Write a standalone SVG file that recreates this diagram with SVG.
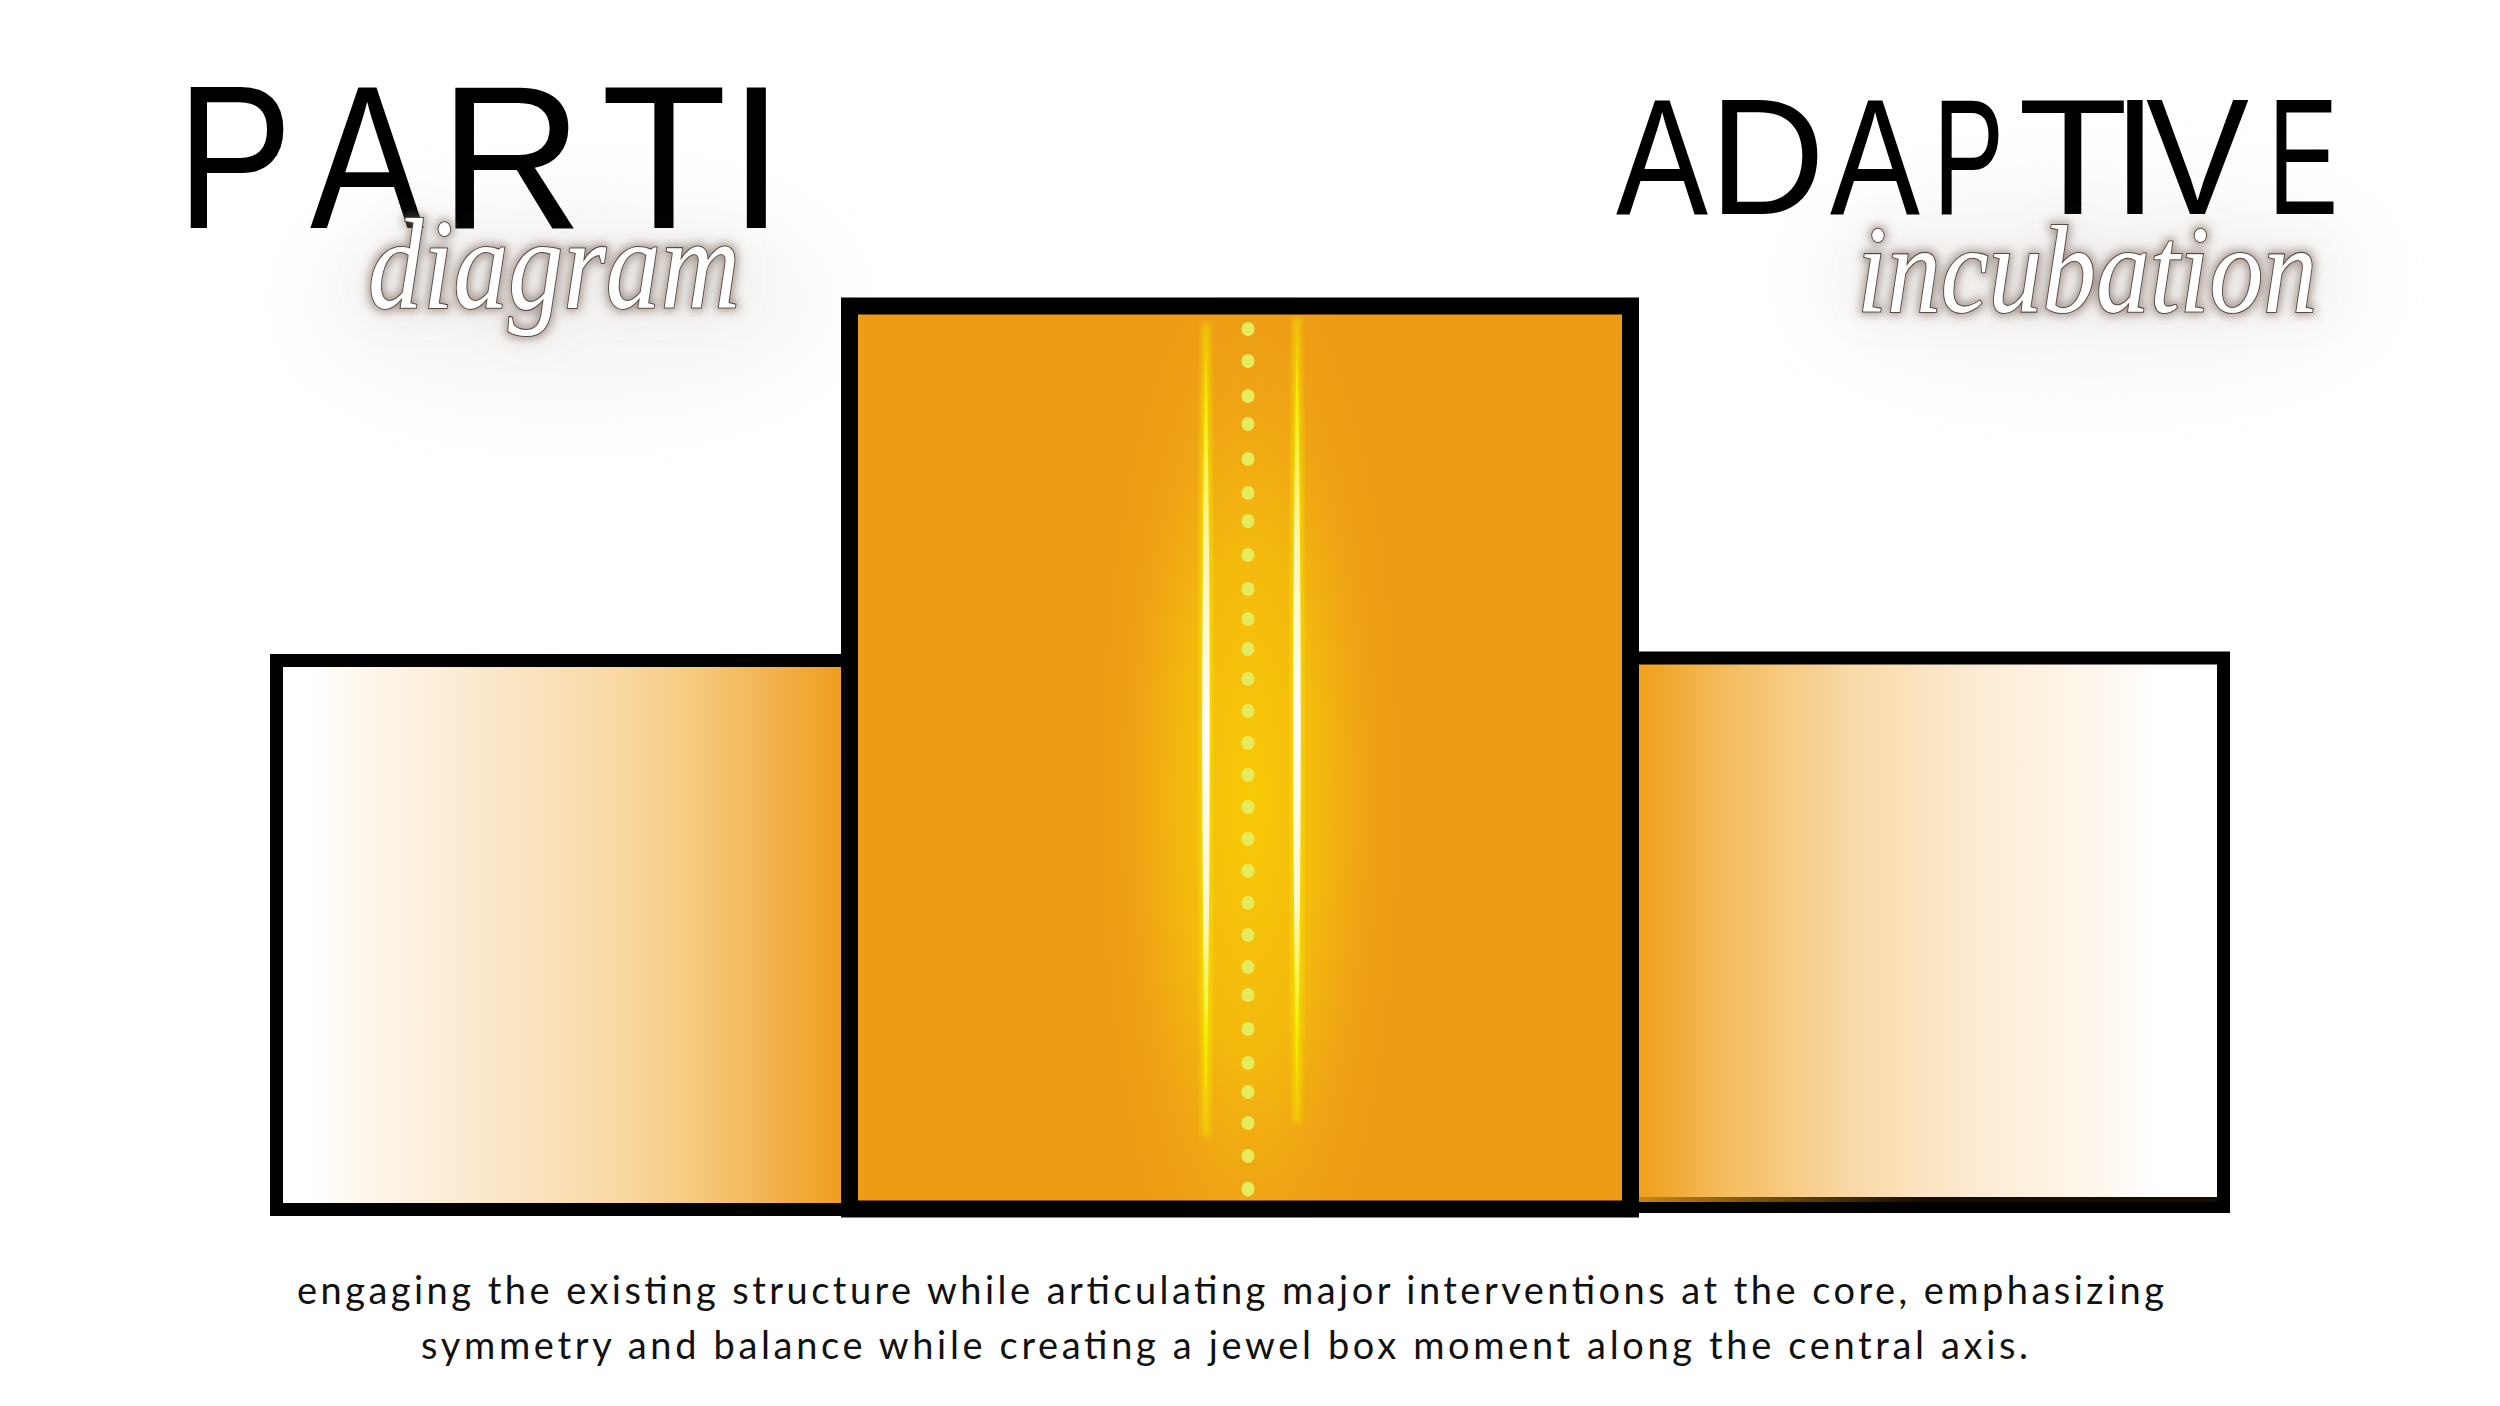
<svg xmlns="http://www.w3.org/2000/svg" width="2500" height="1406" viewBox="0 0 2500 1406">
  <style>
    .frame { stroke: #000; fill: none; stroke-linejoin: miter; }
    .title { font-family: "Liberation Sans", "DejaVu Sans", sans-serif; fill: #000; }
    .script { font-family: "Liberation Serif", "DejaVu Serif", serif; font-style: italic; fill: #fff; stroke: #5b4a40; stroke-width: 2.2; paint-order: stroke; }
    .caption { font-family: Lato, "Noto Sans", "Liberation Sans", sans-serif; font-size: 38px; fill: #111; }
    .dot { fill: #E4EC5E; }
  </style>
  <defs>
    <linearGradient id="gLeft" gradientUnits="userSpaceOnUse" x1="283" y1="0" x2="849" y2="0">
      <stop offset="0" stop-color="#FFFFFF"/>
      <stop offset="0.045" stop-color="#FFFFFF"/>
      <stop offset="0.16" stop-color="#FDF5EA"/>
      <stop offset="0.38" stop-color="#FBE7C9"/>
      <stop offset="0.6" stop-color="#F9D8A2"/>
      <stop offset="0.75" stop-color="#F6C677"/>
      <stop offset="0.89" stop-color="#F2AE45"/>
      <stop offset="1" stop-color="#EE9C16"/>
    </linearGradient>
    <linearGradient id="gRight" gradientUnits="userSpaceOnUse" x1="1639" y1="0" x2="2217" y2="0">
      <stop offset="0" stop-color="#EF9F1B"/>
      <stop offset="0.147" stop-color="#F4BC5E"/>
      <stop offset="0.363" stop-color="#F9D9A6"/>
      <stop offset="0.578" stop-color="#FCEBD2"/>
      <stop offset="0.794" stop-color="#FEF7EE"/>
      <stop offset="0.9" stop-color="#FFFFFF"/>
      <stop offset="1" stop-color="#FFFFFF"/>
    </linearGradient>
    <linearGradient id="gStrip" gradientUnits="userSpaceOnUse" x1="1639" y1="0" x2="1920" y2="0">
      <stop offset="0" stop-color="#C8860F"/>
      <stop offset="1" stop-color="#150d00"/>
    </linearGradient>
    <radialGradient id="gGlow" gradientUnits="userSpaceOnUse" cx="1250" cy="800" r="1" gradientTransform="translate(1250 800) scale(160 580) translate(-1250 -800)">
      <stop offset="0" stop-color="#F8CA06" stop-opacity="1"/>
      <stop offset="0.45" stop-color="#F5C00C" stop-opacity="0.8"/>
      <stop offset="0.8" stop-color="#F0A814" stop-opacity="0.3"/>
      <stop offset="1" stop-color="#EE9C16" stop-opacity="0"/>
    </radialGradient>
    <linearGradient id="gLine" x1="0" y1="0" x2="0" y2="1">
      <stop offset="0" stop-color="#F2EE00" stop-opacity="0"/>
      <stop offset="0.1" stop-color="#F2EE00"/>
      <stop offset="0.28" stop-color="#FDF7B0"/>
      <stop offset="0.5" stop-color="#FFFFFF"/>
      <stop offset="0.72" stop-color="#FFF9D0"/>
      <stop offset="0.88" stop-color="#F0F000"/>
      <stop offset="1" stop-color="#F0F000" stop-opacity="0"/>
    </linearGradient>
    <clipPath id="clipCore">
      <rect x="858" y="314.5" width="764" height="886"/>
    </clipPath>
    <filter id="soft" x="-50%" y="-50%" width="200%" height="200%">
      <feGaussianBlur stdDeviation="3"/>
    </filter>
    <filter id="haze" x="-50%" y="-100%" width="200%" height="300%">
      <feGaussianBlur stdDeviation="45"/>
    </filter>
    <filter id="glow" x="-20%" y="-60%" width="140%" height="220%">
      <feMorphology in="SourceAlpha" operator="dilate" radius="1.5" result="d"/>
      <feGaussianBlur in="d" stdDeviation="5" result="b"/>
      <feFlood flood-color="#6f5d52" flood-opacity="0.6"/>
      <feComposite in2="b" operator="in" result="s"/>
      <feGaussianBlur in="SourceAlpha" stdDeviation="20" result="b2"/>
      <feFlood flood-color="#9b8c82" flood-opacity="0.25"/>
      <feComposite in2="b2" operator="in" result="s2"/>
      <feMerge><feMergeNode in="s2"/><feMergeNode in="s"/><feMergeNode in="SourceGraphic"/></feMerge>
    </filter>
  </defs>

  <rect x="0" y="0" width="2500" height="1406" fill="#FFFFFF"/>

  <!-- Title: PARTI diagram -->
  <g id="title-parti">
    <ellipse cx="570" cy="300" rx="250" ry="90" fill="#e2dbd6" opacity="0.3" filter="url(#haze)"/>
    <text class="title" font-size="204" x="176.5" y="228" textLength="116" lengthAdjust="spacingAndGlyphs">P</text>
    <text class="title" font-size="204" x="310" y="228" textLength="114" lengthAdjust="spacingAndGlyphs">A</text>
    <text class="title" font-size="204" x="439" y="228" textLength="144" lengthAdjust="spacingAndGlyphs">R</text>
    <text class="title" font-size="204" x="601" y="228" textLength="126" lengthAdjust="spacingAndGlyphs">T</text>
    <text class="title" font-size="204" x="728" y="228">I</text>
    <text class="script" font-size="130" x="368" y="308" textLength="372" lengthAdjust="spacingAndGlyphs" filter="url(#glow)">diagram</text>
  </g>

  <!-- Title: ADAPTIVE incubation -->
  <g id="title-adaptive">
    <ellipse cx="2090" cy="280" rx="270" ry="85" fill="#e2dbd6" opacity="0.3" filter="url(#haze)"/>
    <text class="title" font-size="165" x="1616" y="214" textLength="92" lengthAdjust="spacingAndGlyphs">A</text>
    <text class="title" font-size="165" x="1709" y="214" textLength="116" lengthAdjust="spacingAndGlyphs">D</text>
    <text class="title" font-size="165" x="1830" y="214" textLength="90" lengthAdjust="spacingAndGlyphs">A</text>
    <text class="title" font-size="165" x="1933" y="214" textLength="71" lengthAdjust="spacingAndGlyphs">P</text>
    <text class="title" font-size="165" x="2018" y="214" textLength="110" lengthAdjust="spacingAndGlyphs">T</text>
    <text class="title" font-size="165" x="2112" y="214">I</text>
    <text class="title" font-size="165" x="2146" y="214" textLength="103" lengthAdjust="spacingAndGlyphs">V</text>
    <text class="title" font-size="165" x="2268" y="214" textLength="70" lengthAdjust="spacingAndGlyphs">E</text>
    <text class="script" font-size="125" x="1857" y="312" textLength="460" lengthAdjust="spacingAndGlyphs" filter="url(#glow)">incubation</text>
  </g>

  <!-- Left wing -->
  <g id="node-left">
    <rect x="276.5" y="660.5" width="572" height="549" class="frame" stroke-width="13" style="fill:url(#gLeft)"/>
  </g>

  <!-- Right wing -->
  <g id="node-right">
    <rect x="1630" y="658" width="593.5" height="548.5" class="frame" stroke-width="13" style="fill:url(#gRight)"/>
    <rect x="1639" y="1197" width="578" height="5" fill="url(#gStrip)"/>
  </g>

  <!-- Central core -->
  <g id="node-center">
    <rect x="849.5" y="306" width="781" height="903" fill="#EE9C16"/>
    <g clip-path="url(#clipCore)">
      <ellipse cx="1250" cy="800" rx="160" ry="580" fill="url(#gGlow)"/>
      <path d="M1206 323 C1211 600 1211 860 1206 1137 C1201 860 1201 600 1206 323 Z" fill="none" stroke="#F5E600" stroke-width="5" opacity="0.85" filter="url(#soft)"/>
      <path d="M1297 317 C1302 600 1302 850 1297 1123 C1292 850 1292 600 1297 317 Z" fill="none" stroke="#F5E600" stroke-width="5" opacity="0.85" filter="url(#soft)"/>
      <path d="M1206 323 C1211 600 1211 860 1206 1137 C1201 860 1201 600 1206 323 Z" fill="url(#gLine)"/>
      <path d="M1297 317 C1302 600 1302 850 1297 1123 C1292 850 1292 600 1297 317 Z" fill="url(#gLine)"/>
      <g id="axis-dots">
        <ellipse class="dot" cx="1248" cy="329" rx="6.5" ry="7"/>
        <ellipse class="dot" cx="1248" cy="361" rx="6.5" ry="7"/>
        <ellipse class="dot" cx="1248" cy="396" rx="6.5" ry="7"/>
        <ellipse class="dot" cx="1248" cy="424" rx="6.5" ry="7"/>
        <ellipse class="dot" cx="1248" cy="459" rx="6.5" ry="7"/>
        <ellipse class="dot" cx="1248" cy="493" rx="6.5" ry="7"/>
        <ellipse class="dot" cx="1248" cy="521" rx="6.5" ry="7"/>
        <ellipse class="dot" cx="1248" cy="555" rx="6.5" ry="7"/>
        <ellipse class="dot" cx="1248" cy="589" rx="6.5" ry="7"/>
        <ellipse class="dot" cx="1248" cy="619" rx="6.5" ry="7"/>
        <ellipse class="dot" cx="1248" cy="649" rx="6.5" ry="7"/>
        <ellipse class="dot" cx="1248" cy="679" rx="6.5" ry="7"/>
        <ellipse class="dot" cx="1248" cy="711" rx="6.5" ry="7"/>
        <ellipse class="dot" cx="1248" cy="743" rx="6.5" ry="7"/>
        <ellipse class="dot" cx="1248" cy="775" rx="6.5" ry="7"/>
        <ellipse class="dot" cx="1248" cy="807" rx="6.5" ry="7"/>
        <ellipse class="dot" cx="1248" cy="839" rx="6.5" ry="7"/>
        <ellipse class="dot" cx="1248" cy="871" rx="6.5" ry="7"/>
        <ellipse class="dot" cx="1248" cy="903" rx="6.5" ry="7"/>
        <ellipse class="dot" cx="1248" cy="935" rx="6.5" ry="7"/>
        <ellipse class="dot" cx="1248" cy="967" rx="6.5" ry="7"/>
        <ellipse class="dot" cx="1248" cy="995" rx="6.5" ry="7"/>
        <ellipse class="dot" cx="1248" cy="1029" rx="6.5" ry="7"/>
        <ellipse class="dot" cx="1248" cy="1063" rx="6.5" ry="7"/>
        <ellipse class="dot" cx="1248" cy="1092" rx="6.5" ry="7"/>
        <ellipse class="dot" cx="1248" cy="1123" rx="6.5" ry="7"/>
        <ellipse class="dot" cx="1248" cy="1156" rx="6.5" ry="7"/>
        <ellipse class="dot" cx="1248" cy="1189" rx="6.5" ry="7.5"/>
      </g>
    </g>
    <rect x="849.5" y="306" width="781" height="903" class="frame" stroke-width="17"/>
  </g>

  <g id="connectors"/>

  <!-- Caption -->
  <g id="caption">
    <text class="caption" x="297" y="1304" textLength="1867" lengthAdjust="spacing">engaging the existing structure while articulating major interventions at the core, emphasizing</text>
    <text class="caption" x="421" y="1359" textLength="1607" lengthAdjust="spacing">symmetry and balance while creating a jewel box moment along the central axis.</text>
  </g>
</svg>
